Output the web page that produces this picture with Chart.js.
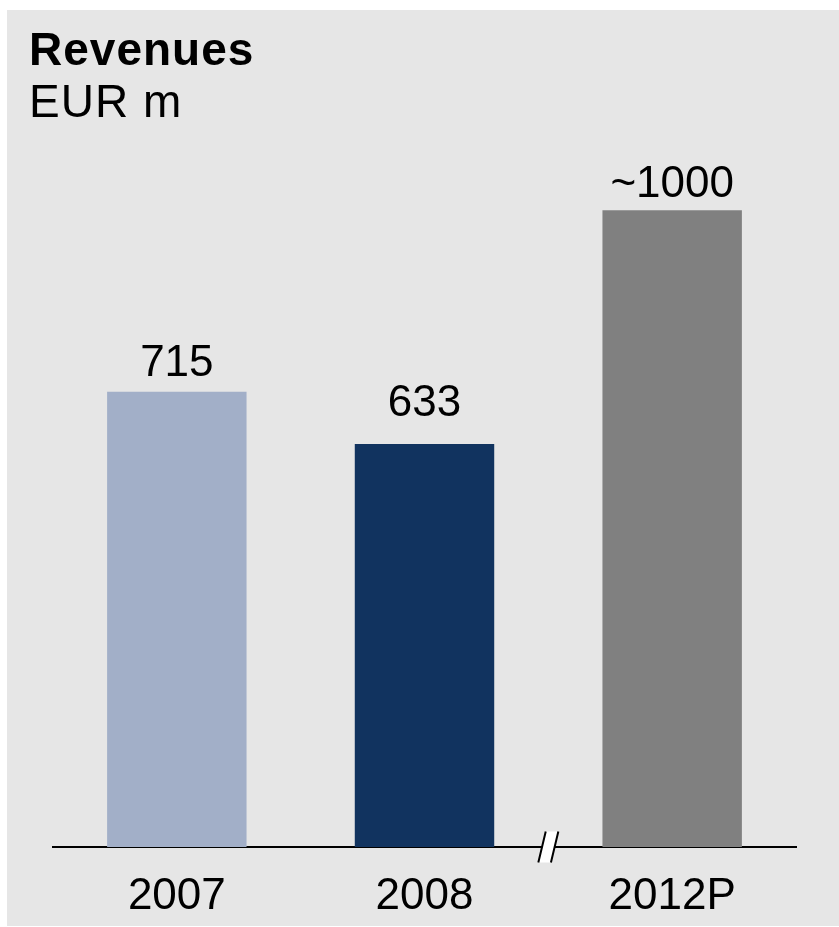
<!DOCTYPE html>
<html>
<head>
<meta charset="utf-8">
<script src="https://cdn.jsdelivr.net/npm/chart.js@4/dist/chart.umd.min.js"></script>
<style>
    body { margin: 0; background: #fff; }
    canvas { display: block; }
</style>
</head>
<body>
<canvas id="revenueChart" width="839" height="927"></canvas>
<script>
const years = ['2007', '2008', '2012P'];
const revenues = [715, 633, 1000];
const approximate = [false, false, true];
const barColors = ['#a2afc8', '#11335f', '#808080'];

const FONT = '"Liberation Sans", Arial, sans-serif';

// grey panel behind everything, with the heading on top
const panel = {
    id: 'panel',
    beforeDraw(chart) {
        const ctx = chart.ctx;
        ctx.save();
        ctx.fillStyle = '#e6e6e6';
        ctx.fillRect(7, 10, 832, 916);
        ctx.fillStyle = '#000';
        ctx.textBaseline = 'alphabetic';
        ctx.textAlign = 'left';
        ctx.letterSpacing = '1px';
        ctx.font = 'bold 46px ' + FONT;
        ctx.fillText('Revenues', 29, 65);
        ctx.font = '46px ' + FONT;
        ctx.fillText('EUR m', 29, 117);
        ctx.restore();
    }
};

// value on top of each bar
const valueLabels = {
    id: 'valueLabels',
    afterDatasetsDraw(chart, args, opts) {
        const ctx = chart.ctx;
        const meta = chart.getDatasetMeta(0);
        ctx.save();
        ctx.font = '44px ' + FONT;
        ctx.fillStyle = '#000';
        ctx.textAlign = 'center';
        ctx.textBaseline = 'alphabetic';
        meta.data.forEach((bar, i) => {
            const text = (approximate[i] ? '~' : '') + revenues[i];
            ctx.fillText(text, bar.x, bar.y - opts.gaps[i]);
        });
        ctx.restore();
    }
};

// "//" break in the axis between 2008 and 2012P
const axisBreak = {
    id: 'axisBreak',
    afterDraw(chart) {
        const x = chart.scales.x;
        const cx = (x.getPixelForValue(1) + x.getPixelForValue(2)) / 2;
        const cy = x.top;
        const h = 15.5, skew = 3.7, w = 6.3;
        const ctx = chart.ctx;
        ctx.save();
        ctx.beginPath();
        ctx.moveTo(cx - w - skew, cy + h);
        ctx.lineTo(cx - w + skew, cy - h);
        ctx.lineTo(cx + w + skew, cy - h);
        ctx.lineTo(cx + w - skew, cy + h);
        ctx.closePath();
        ctx.fillStyle = '#fff';
        ctx.fill();
        ctx.strokeStyle = '#000';
        ctx.lineWidth = 2;
        ctx.beginPath();
        ctx.moveTo(cx - w - skew, cy + h);
        ctx.lineTo(cx - w + skew, cy - h);
        ctx.moveTo(cx + w - skew, cy + h);
        ctx.lineTo(cx + w + skew, cy - h);
        ctx.stroke();
        ctx.restore();
    }
};

const revenueChart = new Chart('revenueChart', {
    type: 'bar',
    data: {
        labels: years,
        datasets: [
            {
                data: revenues,
                backgroundColor: barColors,
                borderWidth: 0,
                categoryPercentage: 1,
                barPercentage: 0.563
            }
        ]
    },
    options: {
        responsive: false,
        devicePixelRatio: 1,
        animation: false,
        layout: {
            padding: { left: 53, right: 43, top: 83, bottom: 0 }
        },
        plugins: {
            legend: { display: false },
            tooltip: { enabled: false },
            valueLabels: { gaps: [16, 28, 13] }
        },
        scales: {
            x: {
                grid: { display: false },
                border: { display: true, color: '#000', width: 2 },
                ticks: {
                    color: '#000',
                    font: { family: FONT, size: 44 },
                    padding: 15,
                    maxRotation: 0,
                    autoSkip: false
                },
                afterFit(scale) {
                    scale.height = 80;
                }
            },
            y: {
                display: false,
                min: 0,
                max: 1200
            }
        }
    },
    plugins: [panel, valueLabels, axisBreak]
});
</script>
</body>
</html>
